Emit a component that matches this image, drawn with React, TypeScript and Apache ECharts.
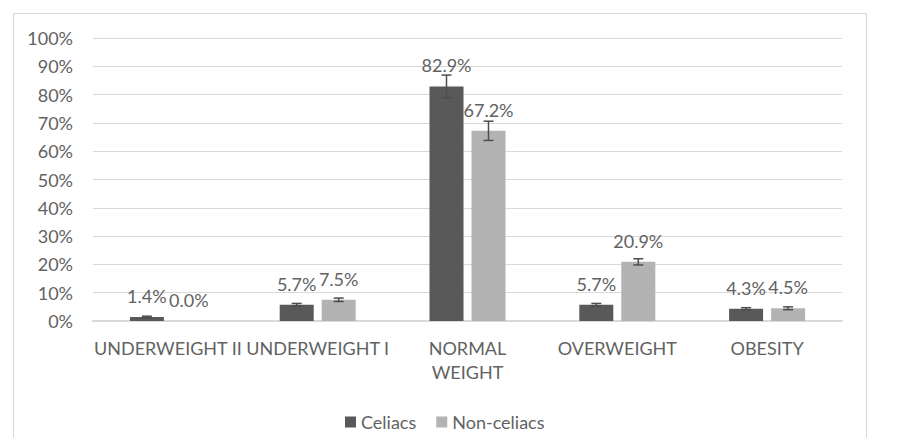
import React, { useEffect, useRef } from "react";
import * as echarts from "echarts";

const categories = ["UNDERWEIGHT II", "UNDERWEIGHT I", "NORMAL\nWEIGHT", "OVERWEIGHT", "OBESITY"];
const seriesNames = ["Celiacs", "Non-celiacs"];
const celiacs = [1.4, 5.7, 82.9, 5.7, 4.3];
const nonCeliacs = [0.0, 7.5, 67.2, 20.9, 4.5];
const celiacsErr = [0.3, 0.5, 4.0, 0.5, 0.4];
const nonCeliacsErr = [0, 0.6, 3.4, 1.1, 0.5];
const yTicks = [0, 10, 20, 30, 40, 50, 60, 70, 80, 90, 100];

const FONT = "Lato";
const TEXT = "#626262";
const DARK = "#595959";
const LIGHT = "#b3b3b3";
const BAR_W = 34;
const BAR_GAP = 8;
const FS = 18;

function errData(vals: number[], errs: number[]) {
  return vals.map((v, i) => [i, v - errs[i], v + errs[i]]);
}

function makeErrRender(side: number) {
  return (params: any, api: any) => {
    const idx = api.value(0);
    const lo = api.coord([idx, api.value(1)]);
    const hi = api.coord([idx, api.value(2)]);
    const off = side * (BAR_W + BAR_GAP) / 2;
    const x = lo[0] + off;
    const cap = 5;
    const style = { stroke: "#4d4d4d", lineWidth: 1.5 };
    return {
      type: "group",
      children: [
        { type: "line", shape: { x1: x, y1: lo[1], x2: x, y2: hi[1] }, style },
        { type: "line", shape: { x1: x - cap, y1: hi[1], x2: x + cap, y2: hi[1] }, style },
        { type: "line", shape: { x1: x - cap, y1: lo[1], x2: x + cap, y2: lo[1] }, style },
      ],
    };
  };
}

export default function App() {
  const ref = useRef<HTMLDivElement>(null);
  useEffect(() => {
    if (!ref.current) return;
    const chart = echarts.init(ref.current, null, { renderer: "svg" });
    const labelCfg = {
      show: true,
      position: "top",
      distance: 12,
      color: TEXT,
      fontFamily: FONT,
      fontSize: FS,
      formatter: (p: any) => Number(p.value).toFixed(1) + "%",
    };
    chart.setOption({
      animation: false,
      backgroundColor: "#ffffff",
      textStyle: { fontFamily: FONT },
      graphic: [
        {
          type: "rect",
          shape: { x: 13.5, y: 13.5, width: 853, height: 440 },
          style: { fill: "none", stroke: "#d9d9d9", lineWidth: 1.2 },
          silent: true,
        },
      ],
      grid: { left: 93, right: 57, top: 38, bottom: 117, containLabel: false },
      legend: {
        data: seriesNames,
        left: 340,
        top: 408,
        icon: "rect",
        itemWidth: 11,
        itemHeight: 11,
        itemGap: 20,
        textStyle: { color: TEXT, fontFamily: FONT, fontSize: FS },
      },
      xAxis: {
        type: "category",
        data: categories,
        axisLine: { lineStyle: { color: "#d9d9d9", width: 2 } },
        axisTick: { show: false },
        axisLabel: {
          color: TEXT,
          fontFamily: FONT,
          fontSize: FS,
          margin: 15,
          lineHeight: 24,
          interval: 0,
        },
      },
      yAxis: {
        type: "value",
        min: yTicks[0],
        max: yTicks[yTicks.length - 1],
        interval: 10,
        axisLine: { show: false },
        axisTick: { show: false },
        splitLine: { lineStyle: { color: "#d9d9d9", width: 1.2 } },
        axisLabel: {
          color: TEXT,
          fontFamily: FONT,
          fontSize: FS,
          margin: 20,
          formatter: (v: number) => v + "%",
        },
      },
      series: [
        {
          name: seriesNames[0],
          type: "bar",
          data: celiacs,
          barWidth: BAR_W,
          barGap: (BAR_GAP / BAR_W) * 100 + "%",
          itemStyle: { color: DARK },
          label: labelCfg,
          z: 2,
        },
        {
          name: seriesNames[1],
          type: "bar",
          data: nonCeliacs,
          barWidth: BAR_W,
          itemStyle: { color: LIGHT },
          label: labelCfg,
          z: 2,
        },
        {
          type: "custom",
          name: "errC",
          renderItem: makeErrRender(-1),
          data: errData(celiacs, celiacsErr),
          encode: { x: 0, y: [1, 2] },
          z: 5,
          silent: true,
        },
        {
          type: "custom",
          name: "errN",
          renderItem: makeErrRender(1),
          data: errData(nonCeliacs, nonCeliacsErr).filter((d, i) => nonCeliacsErr[i] > 0),
          encode: { x: 0, y: [1, 2] },
          z: 5,
          silent: true,
        },
      ],
    });
    return () => chart.dispose();
  }, []);
  return (
    <div
      ref={ref}
      style={{ position: "fixed", left: 0, top: 0, width: 899, height: 438 }}
    />
  );
}
